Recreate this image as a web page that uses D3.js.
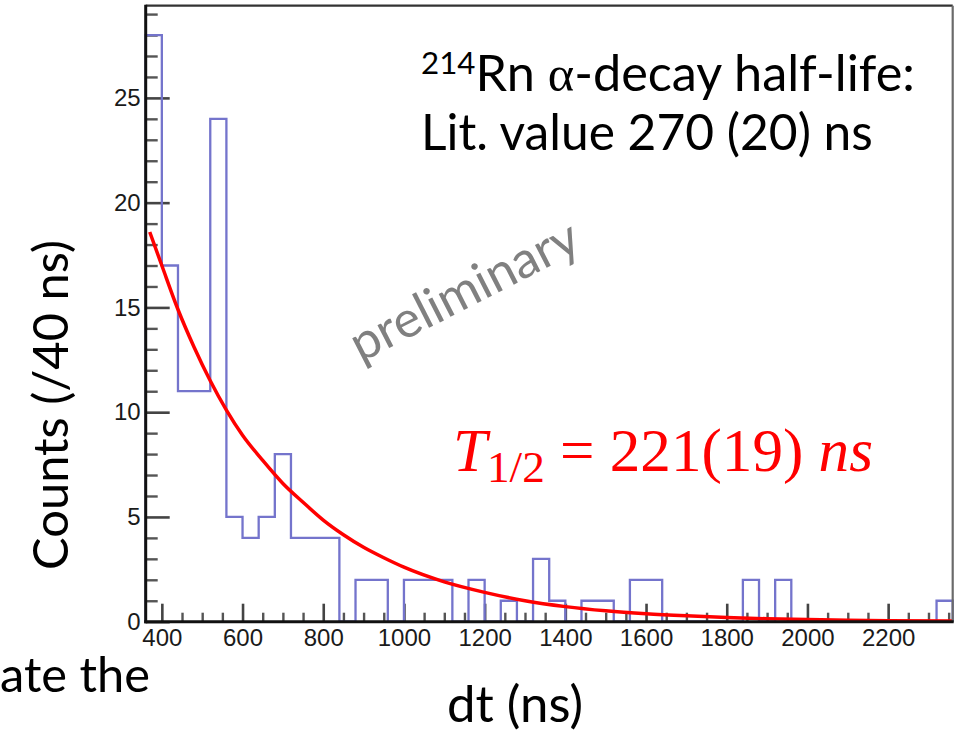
<!DOCTYPE html>
<html>
<head>
<meta charset="utf-8">
<script src="https://cdn.jsdelivr.net/npm/d3@7"></script>
<style>
  html, body { margin: 0; padding: 0; background: #fff; }
  svg { display: block; }
</style>
</head>
<body>
<script>
// histogram: 40 ns bins from 360 to 2360 ns
const binEdgeLow = 360;
const binWidth = 40;
const counts = [
  28, 17, 11, 11, 24, 5, 4, 5, 8, 4,
  4, 4, 0, 2, 2, 0, 2, 2, 2, 0,
  2, 0, 1, 0, 3, 1, 0, 1, 1, 0,
  2, 2, 0, 0, 0, 0, 0, 2, 0, 2,
  0, 0, 0, 0, 0, 0, 0, 0, 0, 1
];

// exponential fit curve
const fitTime = [370, 400, 440, 480, 520, 560, 600, 650, 700, 750, 800, 850, 900, 950,
  1000, 1100, 1200, 1300, 1400, 1500, 1600, 1700, 1800, 1900, 2000, 2100, 2200, 2360];
const fitCounts = [18.6, 17.0, 14.9, 13.1, 11.5, 10.1, 8.9, 7.7, 6.6, 5.7, 4.85, 4.15, 3.55, 3.05,
  2.6, 1.9, 1.4, 1.0, 0.72, 0.52, 0.38, 0.28, 0.2, 0.14, 0.1, 0.07, 0.05, 0.03];

// axis tick labels
const xTickLabels = [400, 600, 800, 1000, 1200, 1400, 1600, 1800, 2000, 2200];
const yTickLabels = [0, 5, 10, 15, 20, 25];

const width = 964;
const height = 734;
const margin = { top: 5.7, right: 11.3, bottom: 112.3, left: 145.7 };

const svg = d3.select('body')
  .append('svg')
  .attr('width', width)
  .attr('height', height);

const xScale = d3.scaleLinear()
  .domain([360, 2360])
  .range([margin.left, width - margin.right]);
const yScale = d3.scaleLinear()
  .domain([0, 29.4])
  .range([height - margin.bottom, margin.top]);

const tickFont = '"Liberation Sans", Arial, sans-serif';
const slideFont = 'Lato, "Open Sans", sans-serif';

// minor ticks
const yMinor = d3.range(1, 30).filter(v => v % 5 !== 0);
const xMinor = d3.range(400, 2360, 50).filter(v => v % 200 !== 0);

svg.append('g')
  .attr('transform', `translate(${margin.left},0)`)
  .call(d3.axisLeft(yScale).tickValues(yMinor).tickSize(-12).tickFormat(''))
  .call(g => g.select('.domain').remove())
  .call(g => g.selectAll('line').attr('stroke', '#555').attr('stroke-width', 2.4));

svg.append('g')
  .attr('transform', `translate(0,${height - margin.bottom})`)
  .call(d3.axisBottom(xScale).tickValues(xMinor).tickSize(-9).tickFormat(''))
  .call(g => g.select('.domain').remove())
  .call(g => g.selectAll('line').attr('stroke', '#555').attr('stroke-width', 2.4));

// major ticks and labels
svg.append('g')
  .attr('class', 'y-axis')
  .attr('transform', `translate(${margin.left},0)`)
  .call(d3.axisLeft(yScale).tickValues(yTickLabels).tickSize(-24).tickPadding(5)
    .tickFormat(d3.format('d')))
  .call(g => g.select('.domain').remove())
  .call(g => g.selectAll('line').attr('stroke', '#444').attr('stroke-width', 2.6))
  .call(g => g.selectAll('text')
    .attr('font-family', tickFont)
    .attr('font-size', 24)
    .attr('fill', '#1a1a1a'));

svg.append('g')
  .attr('class', 'x-axis')
  .attr('transform', `translate(0,${height - margin.bottom})`)
  .call(d3.axisBottom(xScale).tickValues(xTickLabels).tickSize(-18).tickPadding(7)
    .tickFormat(d3.format('d')))
  .call(g => g.select('.domain').remove())
  .call(g => g.selectAll('line').attr('stroke', '#444').attr('stroke-width', 2.6))
  .call(g => g.selectAll('text')
    .attr('font-family', tickFont)
    .attr('font-size', 24)
    .attr('fill', '#1a1a1a'));

// histogram outline
const histPoints = [{ t: binEdgeLow, c: 0 }];
counts.forEach((c, i) => histPoints.push({ t: binEdgeLow + i * binWidth, c: c }));
histPoints.push({ t: binEdgeLow + counts.length * binWidth, c: counts[counts.length - 1] });
histPoints.push({ t: binEdgeLow + counts.length * binWidth, c: 0 });

const histLine = d3.line()
  .x(d => xScale(d.t))
  .y(d => yScale(d.c))
  .curve(d3.curveStepAfter);

svg.append('path')
  .datum(histPoints)
  .attr('d', histLine)
  .attr('fill', 'none')
  .attr('stroke', '#7474cc')
  .attr('stroke-width', 2.3);

// fit curve
const fitLine = d3.line()
  .x((d, i) => xScale(fitTime[i]))
  .y(d => yScale(d))
  .curve(d3.curveMonotoneX);

svg.append('path')
  .datum(fitCounts)
  .attr('d', fitLine)
  .attr('fill', 'none')
  .attr('stroke', '#ff0000')
  .attr('stroke-width', 3.5);

// frame
const x0 = margin.left, x1 = width - margin.right;
const y0 = margin.top, y1 = height - margin.bottom;
svg.append('line').attr('x1', x0).attr('x2', x1).attr('y1', y0).attr('y2', y0)
  .attr('stroke', '#333').attr('stroke-width', 2.2);
svg.append('line').attr('x1', x1).attr('x2', x1).attr('y1', y0).attr('y2', y1)
  .attr('stroke', '#6a6a6a').attr('stroke-width', 2.2);
svg.append('line').attr('x1', x0).attr('x2', x0).attr('y1', y0 - 1).attr('y2', y1 + 1.5)
  .attr('stroke', '#111').attr('stroke-width', 3);
svg.append('line').attr('x1', x0 - 1.5).attr('x2', x1 + 1).attr('y1', y1).attr('y2', y1)
  .attr('stroke', '#111').attr('stroke-width', 3);

// scale a text's font so it spans the wanted width
function fitWidth(sel, target) {
  const node = sel.node();
  const fs = parseFloat(sel.attr('font-size'));
  const w = node.getComputedTextLength();
  sel.attr('font-size', fs * target / w);
  return sel;
}

// annotations
const line1 = svg.append('text')
  .attr('x', 421)
  .attr('y', 91)
  .attr('font-family', slideFont)
  .attr('font-size', 44)
  .attr('fill', '#000');
line1.append('tspan').attr('font-size', '0.62em').attr('dy', -17).text('214');
line1.append('tspan').attr('dy', 17).text('Rn ');
line1.append('tspan').attr('font-family', '"Liberation Serif", serif').text('α');
line1.append('tspan').text('-decay half-life:');
fitWidth(line1, 494);

const line2 = svg.append('text')
  .attr('x', 421)
  .attr('y', 150)
  .attr('font-family', slideFont)
  .attr('font-size', 44)
  .attr('fill', '#000')
  .text('Lit. value 270 (20) ns');
fitWidth(line2, 452);

const prelim = svg.append('text')
  .attr('font-family', slideFont)
  .attr('font-size', 44)
  .attr('fill', '#808080')
  .attr('text-anchor', 'middle')
  .attr('transform', 'translate(472,306) rotate(-27)')
  .text('preliminary');
fitWidth(prelim, 250);

const half = svg.append('text')
  .attr('x', 453)
  .attr('y', 471)
  .attr('font-family', '"Liberation Serif", "DejaVu Serif", serif')
  .attr('font-size', 50)
  .attr('fill', '#ff0000');
half.append('tspan').attr('font-style', 'italic').text('T');
half.append('tspan').attr('font-size', '0.74em').attr('dy', 11).text('1/2');
half.append('tspan').attr('dy', -11).text(' = 221(19) ');
half.append('tspan').attr('font-style', 'italic').text('ns');
fitWidth(half, 420);

const yLabel = svg.append('text')
  .attr('transform', 'translate(68,405) rotate(-90)')
  .attr('text-anchor', 'middle')
  .attr('font-family', slideFont)
  .attr('font-size', 44)
  .attr('fill', '#000')
  .text('Counts (/40 ns)');
fitWidth(yLabel, 330);

const xLabel = svg.append('text')
  .attr('x', 515)
  .attr('y', 722)
  .attr('text-anchor', 'middle')
  .attr('font-family', slideFont)
  .attr('font-size', 44)
  .attr('fill', '#000')
  .text('dt (ns)');
fitWidth(xLabel, 136);

const cutText = svg.append('text')
  .attr('x', 0)
  .attr('y', 692)
  .attr('font-family', slideFont)
  .attr('font-size', 44)
  .attr('fill', '#000')
  .text('ate the');
fitWidth(cutText, 150);
</script>
</body>
</html>
